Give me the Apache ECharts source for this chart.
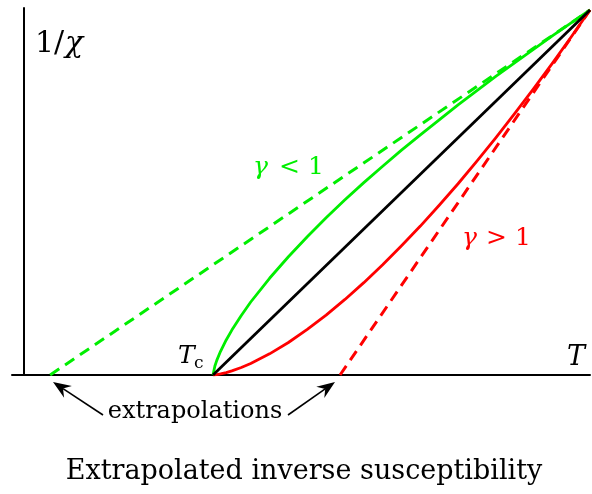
<!DOCTYPE html>
<html>
<head>
<meta charset="utf-8">
<script src="https://cdn.jsdelivr.net/npm/echarts@6/dist/echarts.min.js"></script>
<style>
  html, body { margin: 0; padding: 0; background: #fff; }
  #chart { width: 592px; height: 494px; }
</style>
</head>
<body>
<div id="chart"></div>
<script>
// temperature in units where Tc = 1 and the top meeting point is T = 2
var tCurve = [1, 1.005, 1.01, 1.02, 1.035, 1.05, 1.075, 1.1, 1.15, 1.2, 1.25, 1.3, 1.35, 1.4, 1.45, 1.5,
              1.55, 1.6, 1.65, 1.7, 1.75, 1.8, 1.85, 1.9, 1.95, 2];
var greenCurve = [0, 0.0245, 0.04, 0.065, 0.096, 0.123, 0.163, 0.2, 0.265, 0.324, 0.379, 0.431, 0.48, 0.527, 0.572, 0.616,
                  0.658, 0.699, 0.74, 0.779, 0.818, 0.855, 0.892, 0.929, 0.965, 1];
var redCurve = [0, 0.0004, 0.001, 0.0028, 0.0065, 0.0112, 0.0205, 0.0316, 0.058, 0.089, 0.125, 0.164, 0.207, 0.253, 0.302, 0.354,
                0.408, 0.465, 0.524, 0.586, 0.65, 0.716, 0.784, 0.854, 0.926, 1];
var blackLine = [[1, 0], [2, 1]];
var greenExtrap = [[0.568, 0], [2, 1]];
var redExtrap = [[1.337, 0], [2, 1]];

var serif = "'DejaVu Serif', 'Liberation Serif', serif";

function pairs(xs, ys) {
    var out = [];
    for (var i = 0; i < xs.length; i++) out.push([xs[i], ys[i]]);
    return out;
}

var myChart = echarts.init(document.getElementById('chart'));

var option = {
    animation: false,
    backgroundColor: '#fff',
    grid: { left: 12, right: 2, top: 8, bottom: 119 },
    xAxis: {
        type: 'value',
        min: 0.4668,
        max: 2,
        axisLine: { lineStyle: { color: '#000', width: 2 } },
        axisTick: { show: false },
        axisLabel: { show: false },
        splitLine: { show: false }
    },
    yAxis: {
        type: 'value',
        min: 0,
        max: 1.0055,
        offset: -12,
        axisLine: { show: true, onZero: false, lineStyle: { color: '#000', width: 2 } },
        axisTick: { show: false },
        axisLabel: { show: false },
        splitLine: { show: false }
    },
    series: [
        {
            type: 'line', data: greenExtrap, showSymbol: false,
            lineStyle: { color: '#00ee00', width: 3, type: [11, 7] }
        },
        {
            type: 'line', data: redExtrap, showSymbol: false,
            lineStyle: { color: '#ff0000', width: 3, type: [11, 7] }
        },
        {
            type: 'line', data: pairs(tCurve, greenCurve), showSymbol: false,
            lineStyle: { color: '#00ee00', width: 2.8, join: 'round' }
        },
        {
            type: 'line', data: pairs(tCurve, redCurve), showSymbol: false,
            lineStyle: { color: '#ff0000', width: 2.8, join: 'round' }
        },
        {
            type: 'line', data: blackLine, showSymbol: false,
            lineStyle: { color: '#000', width: 2.8 }
        }
    ],
    graphic: [
        { type: 'text', x: 35, y: 44, style: { text: '1/', font: '30px ' + serif, fill: '#000', verticalAlign: 'middle' } },
        { type: 'text', x: 65, y: 44, style: { text: 'χ', font: 'italic 30px ' + serif, fill: '#000', verticalAlign: 'middle' } },
        { type: 'text', x: 253, y: 167, style: { text: 'γ', font: 'italic 25px ' + serif, fill: '#00ee00', verticalAlign: 'middle' } },
        { type: 'text', x: 279, y: 167, style: { text: '< 1', font: '25px ' + serif, fill: '#00ee00', verticalAlign: 'middle' } },
        { type: 'text', x: 462, y: 238, style: { text: 'γ', font: 'italic 25px ' + serif, fill: '#ff0000', verticalAlign: 'middle' } },
        { type: 'text', x: 486, y: 238, style: { text: '> 1', font: '25px ' + serif, fill: '#ff0000', verticalAlign: 'middle' } },
        { type: 'text', x: 178, y: 356, style: { text: 'T', font: 'italic 25px ' + serif, fill: '#000', verticalAlign: 'middle' } },
        { type: 'text', x: 194, y: 364, style: { text: 'c', font: '17px ' + serif, fill: '#000', verticalAlign: 'middle' } },
        { type: 'text', x: 567, y: 358, style: { text: 'T', font: 'italic 27px ' + serif, fill: '#000', verticalAlign: 'middle' } },
        { type: 'text', x: 195, y: 412, style: { text: 'extrapolations', font: '24px ' + serif, fill: '#000', align: 'center', verticalAlign: 'middle' } },
        { type: 'text', x: 304, y: 472, style: { text: 'Extrapolated inverse susceptibility', font: '27px ' + serif, fill: '#000', align: 'center', verticalAlign: 'middle' } },
        // arrows
        { type: 'line', shape: { x1: 103, y1: 415, x2: 63, y2: 388.6 }, style: { stroke: '#000', lineWidth: 1.6 } },
        { type: 'polygon', shape: { points: [[53, 382], [71.9, 386.1], [63, 388.6], [64.1, 397.8]] }, style: { fill: '#000' } },
        { type: 'line', shape: { x1: 288, y1: 415, x2: 325.2, y2: 388.9 }, style: { stroke: '#000', lineWidth: 1.6 } },
        { type: 'polygon', shape: { points: [[335, 382], [324.3, 398.1], [325.2, 388.9], [316.3, 386.7]] }, style: { fill: '#000' } }
    ]
};

myChart.setOption(option);
</script>
</body>
</html>
